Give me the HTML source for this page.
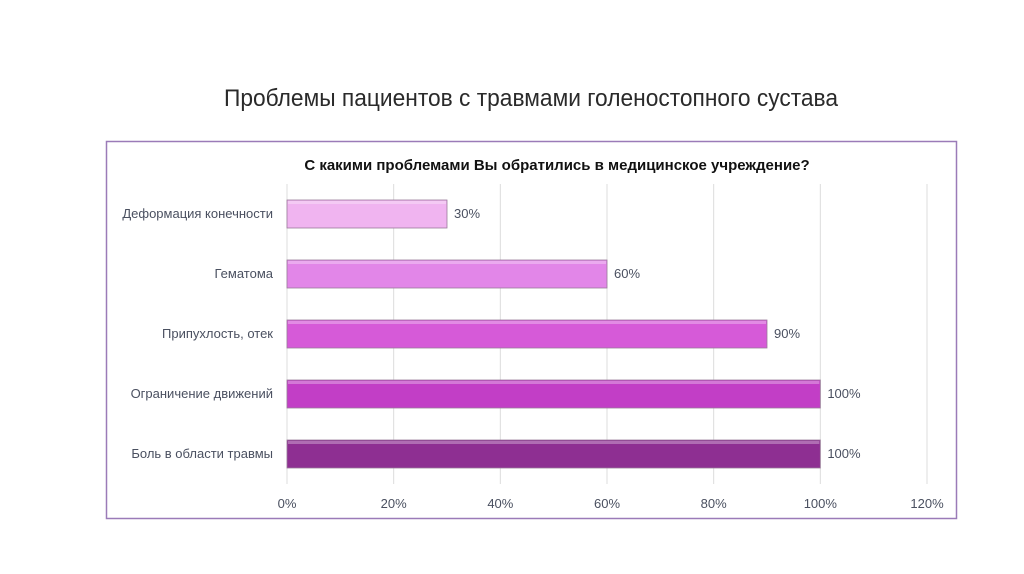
<!DOCTYPE html>
<html><head><meta charset="utf-8"><style>
body{margin:0;background:#fff;}
svg{display:block;font-family:"Liberation Sans","DejaVu Sans",sans-serif;}
</style></head><body>
<svg width="1024" height="574">
<text x="531" y="106" text-anchor="middle" font-size="24" fill="#2a2a2a" textLength="614" lengthAdjust="spacingAndGlyphs">Проблемы пациентов с травмами голеностопного сустава</text>
<rect x="106.5" y="141.5" width="850" height="377" fill="#fff" stroke="#9b7bb8" stroke-width="1.5"/>
<text x="557" y="170" text-anchor="middle" font-size="15" font-weight="bold" fill="#111">С какими проблемами Вы обратились в медицинское учреждение?</text>
<g id="grid"></g><g id="bars"></g><g id="ticks"></g>
</svg>
<script>
const categories=["Деформация конечности","Гематома","Припухлость, отек","Ограничение движений","Боль в области травмы"];
const values=[30,60,90,100,100];
const valueLabels=["30%","60%","90%","100%","100%"];
const ticks=[0,20,40,60,80,100,120];
const tickLabels=["0%","20%","40%","60%","80%","100%","120%"];
const colors=["#f0b4f0","#e286e8","#d65ad8","#c23ec6","#8e2f92"];
const NS="http://www.w3.org/2000/svg";
const x=v=>287+v*(927-287)/120;
const y=i=>214+i*60;
function mk(t,a,p){const e=document.createElementNS(NS,t);for(const k in a)e.setAttribute(k,a[k]);p.appendChild(e);return e;}
const g=document.getElementById('grid'),b=document.getElementById('bars'),tk=document.getElementById('ticks');
ticks.forEach((t,i)=>{
 const l=mk('line',{x1:x(t),x2:x(t),y1:184,y2:484,stroke:'#dcdcdc','stroke-width':1},g);
 
 
 const tx=mk('text',{x:x(t),y:508,'text-anchor':'middle','font-size':13,fill:'#4a5060'},tk);
 tx.textContent=tickLabels[i];
 
 
});
categories.forEach((c,i)=>{
 const r=mk('rect',{x:x(0),y:y(i)-14,width:x(values[i])-x(0),height:28,fill:colors[i],stroke:'#9a7a9a','stroke-width':0.8},b);
 
 
 mk('rect',{x:x(0)+1,y:y(i)-13,width:x(values[i])-x(0)-2,height:3,fill:'#fff',opacity:0.3},b);
 const lb=mk('text',{x:273,y:y(i)+4,'text-anchor':'end','font-size':13,fill:'#4a5060'},b);
 lb.textContent=c;
 
 
 const vl=mk('text',{x:x(values[i])+7,y:y(i)+4,'font-size':13,fill:'#4a5060'},b);
 vl.textContent=valueLabels[i];
 
 
});
</script>
</body></html>
